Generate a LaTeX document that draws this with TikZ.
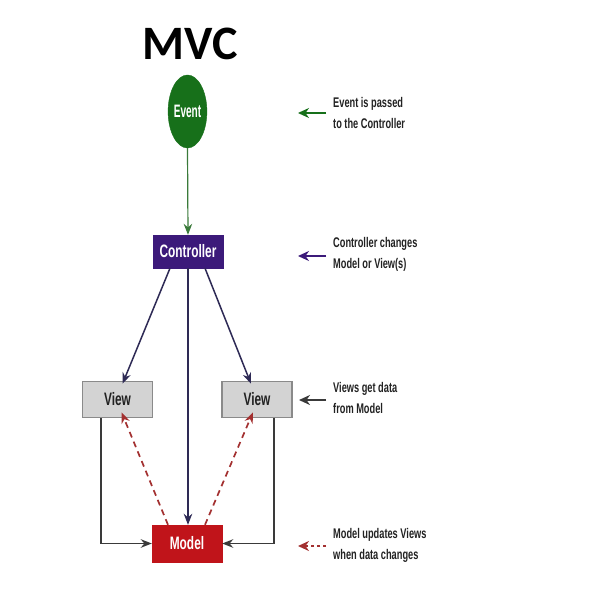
\documentclass[tikz,border=0pt]{standalone}
\usepackage{fontspec}
\setmainfont{Liberation Sans}
\newfontfamily\narrowfont{Liberation Sans}[FakeStretch=0.66]
\newfontfamily\eventfont{Liberation Sans}[FakeStretch=0.56]
\newfontfamily\titlefont{Carlito}
\usetikzlibrary{arrows.meta,shapes.geometric}
\definecolor{evgreen}{HTML}{17701A}
\definecolor{glinec}{HTML}{3A7A3A}
\definecolor{ctrlc}{HTML}{3C1A7A}
\definecolor{navyc}{HTML}{2E2A55}
\definecolor{viewfill}{HTML}{D3D3D3}
\definecolor{viewdraw}{HTML}{8A8A8A}
\definecolor{darkc}{HTML}{3A3A3A}
\definecolor{modelc}{HTML}{C0141A}
\definecolor{dashc}{HTML}{A33030}
\definecolor{textc}{HTML}{222222}
\tikzset{
  tip/.style={-{Stealth[length=11pt,width=8.5pt]}},
  evnode/.style={ellipse,fill=evgreen,draw=evgreen,minimum width=31pt,minimum height=73pt,inner sep=0pt,text=white,font=\eventfont\bfseries\fontsize{18}{18}\selectfont},
  boxbase/.style={rectangle,inner sep=0pt,font=\narrowfont\bfseries\fontsize{18}{18}\selectfont},
  ctrlbox/.style={boxbase,fill=ctrlc,draw=ctrlc,text=white,minimum width=70pt,minimum height=33pt},
  viewbox/.style={boxbase,fill=viewfill,draw=viewdraw,line width=1.5pt,text=textc,minimum width=70pt,minimum height=36pt},
  modelbox/.style={boxbase,fill=modelc,draw=modelc,text=white,minimum width=70pt,minimum height=37pt},
  greenarrow/.style={tip,draw=glinec,line width=1.2pt},
  navyarrow/.style={tip,draw=navyc,line width=1.5pt},
  grayarrow/.style={tip,draw=darkc,line width=1.6pt},
  dasharrow/.style={tip,draw=dashc,line width=1.7pt,dash pattern=on 6pt off 4.5pt},
  note/.style={anchor=west,inner sep=0pt,align=left,text=textc,font=\narrowfont\bfseries\fontsize{14}{21}\selectfont},
  legarrow/.style={-{Stealth[length=11pt,width=10pt]},line width=2.5pt},
  titlenode/.style={inner sep=0pt,font=\titlefont\bfseries\fontsize{48}{48}\selectfont,text=black}
}
\begin{document}
\begin{tikzpicture}[x=1pt,y=-1pt]
\useasboundingbox[fill=white] (0,0) rectangle (598,600);
\node[titlenode] (ttl) at (190,44) {MVC};
\node[evnode] (ev) at (187.5,111.5) {Event};
\node[ctrlbox] (ctrl) at (188,251.5) {Controller};
\node[viewbox] (vl) at (117.5,399.5) {View};
\node[viewbox] (vr) at (257,399.5) {View};
\node[modelbox] (md) at (187,543.5) {Model};
\draw[greenarrow] (ev.south) -- (ctrl.north);
\draw[navyarrow] ([xshift=-18pt]ctrl.south) -- ([xshift=5pt,yshift=-3pt]vl.north);
\draw[navyarrow] (ctrl.south) -- (ctrl.south |- md.north);
\draw[navyarrow] ([xshift=17pt]ctrl.south) -- ([xshift=-6pt,yshift=-3pt]vr.north);
\draw[grayarrow] ([xshift=-16.5pt]vl.south) |- (md.west);
\draw[grayarrow] ([xshift=17pt]vr.south) |- (md.east);
\draw[dasharrow] ([xshift=-19pt]md.north) -- ([xshift=4pt,yshift=6pt]vl.south);
\draw[dasharrow] ([xshift=18pt]md.north) -- ([xshift=-4pt,yshift=6pt]vr.south);
\node[note] (t1) at (333,113) {Event is passed\\to the Controller};
\node[note] (t2) at (333,254) {Controller changes\\Model or View(s)};
\node[note] (t3) at (333,398) {Views get data\\from Model};
\node[note] (t4) at (333,545) {Model updates Views\\when data changes};
\coordinate (a1s) at (326,113); \coordinate (a1e) at (298,113);
\coordinate (a2s) at (326,256); \coordinate (a2e) at (298,256);
\coordinate (a3s) at (326,400); \coordinate (a3e) at (299,400);
\coordinate (a4s) at (326,546); \coordinate (a4e) at (298,546);
\draw[legarrow,draw=evgreen] (a1s) -- (a1e);
\draw[legarrow,draw=ctrlc] (a2s) -- (a2e);
\draw[legarrow,draw=darkc] (a3s) -- (a3e);
\draw[legarrow,draw=dashc,dash pattern=on 3pt off 3pt] (a4s) -- (a4e);
\end{tikzpicture}
\end{document}
